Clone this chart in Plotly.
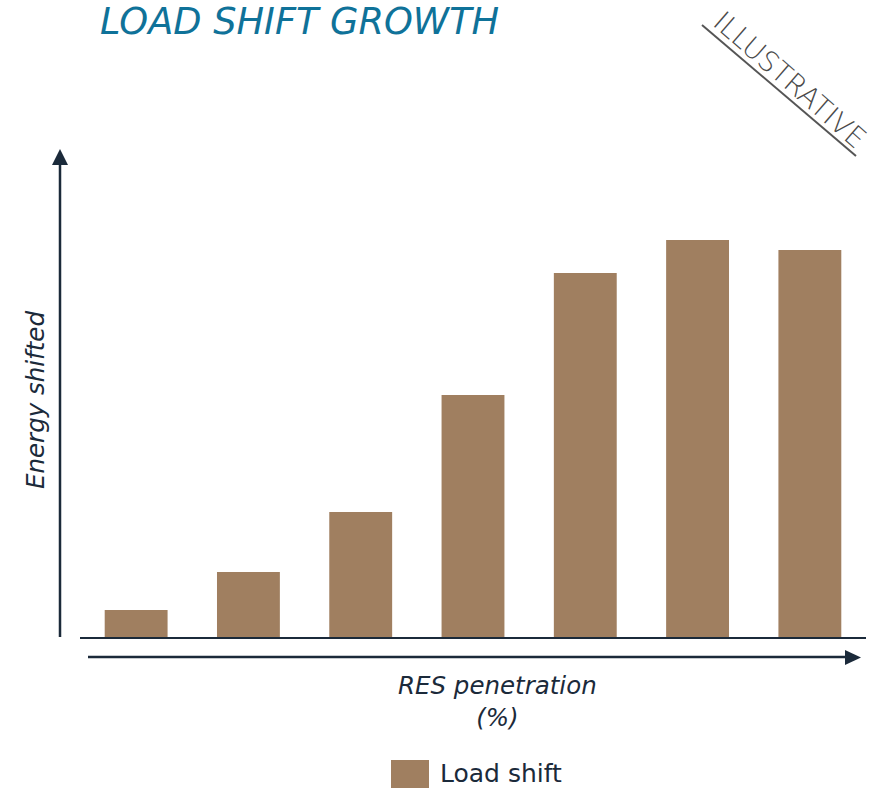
import plotly.graph_objects as go

# ---- data ----
categories = ["1", "2", "3", "4", "5", "6", "7"]
load_shift = [2.7, 6.5, 12.5, 24.2, 36.4, 39.7, 38.7]
series_name = "Load shift"
title_text = "LOAD SHIFT GROWTH"
stamp_text = "ILLUSTRATIVE"
y_title = "Energy shifted"
x_title = "RES penetration<br>(%)"

W, H = 874, 788
L, R, T, B = 80, 8, 137, 151
PW, PH = W - L - R, H - T - B
NAVY = "#1b2a3a"
BAR = "#a07f60"
FONT = "DejaVu Sans"

def px(x):
    return (x - L) / PW

def py(y):
    return (H - B - y) / PH

fig = go.Figure()
fig.add_trace(go.Bar(x=categories, y=load_shift, name=series_name,
                     marker=dict(color=BAR, line=dict(width=0)),
                     showlegend=False))

shapes = []
# y axis arrow
shapes.append(dict(type="line", xref="paper", yref="paper",
                   x0=px(60), x1=px(60), y0=py(637), y1=py(163),
                   line=dict(color=NAVY, width=2.5)))
shapes.append(dict(type="path", xref="paper", yref="paper",
                   path=f"M {px(52)} {py(165)} L {px(68)} {py(165)} L {px(60)} {py(149)} Z",
                   fillcolor=NAVY, line=dict(width=0)))
# x axis arrow
shapes.append(dict(type="line", xref="paper", yref="paper",
                   x0=px(88), x1=px(847), y0=py(657), y1=py(657),
                   line=dict(color=NAVY, width=2.5)))
shapes.append(dict(type="path", xref="paper", yref="paper",
                   path=f"M {px(845)} {py(650)} L {px(845)} {py(665)} L {px(861)} {py(657.5)} Z",
                   fillcolor=NAVY, line=dict(width=0)))
# stamp underline
shapes.append(dict(type="line", xref="paper", yref="paper",
                   x0=px(702), x1=px(856), y0=py(25), y1=py(156),
                   line=dict(color="#555555", width=2)))
# legend swatch
shapes.append(dict(type="rect", xref="paper", yref="paper",
                   x0=px(391), x1=px(429), y0=py(760), y1=py(792),
                   fillcolor=BAR, line=dict(width=0)))

annotations = [
    dict(text=f"<i>{title_text}</i>", xref="paper", yref="paper",
         x=px(98), y=py(21), xanchor="left", yanchor="middle", showarrow=False,
         font=dict(family=FONT, size=36.7, color="#0f7299")),
    dict(text=stamp_text, xref="paper", yref="paper",
         x=px(789), y=py(80), xanchor="center", yanchor="middle", showarrow=False,
         textangle=41, font=dict(family=FONT, size=28, color="#4a4a4a", weight=200)),
    dict(text=f"<i>{y_title}</i>", xref="paper", yref="paper",
         x=px(35), y=py(400), xanchor="center", yanchor="middle", showarrow=False,
         textangle=-90, font=dict(family=FONT, size=24.5, color=NAVY)),
    dict(text=f"<i>{x_title}</i>", xref="paper", yref="paper",
         x=px(497), y=py(701), xanchor="center", yanchor="middle", showarrow=False,
         font=dict(family=FONT, size=24.5, color=NAVY)),
    dict(text=series_name, xref="paper", yref="paper",
         x=px(438), y=py(773), xanchor="left", yanchor="middle", showarrow=False,
         font=dict(family=FONT, size=25, color=NAVY)),
]

fig.update_layout(
    width=W, height=H,
    margin=dict(l=L, r=R, t=T, b=B),
    paper_bgcolor="white", plot_bgcolor="white",
    bargap=0.44,
    xaxis=dict(showline=True, linecolor=NAVY, linewidth=2, showticklabels=False,
               ticks="", showgrid=False, zeroline=False),
    yaxis=dict(range=[0, 50], showticklabels=False, showgrid=False,
               zeroline=False, showline=False, ticks=""),
    shapes=shapes,
    annotations=annotations,
    showlegend=False,
)

fig.write_html("out.html", config={"displayModeBar": False},
               post_script="document.body.style.margin='0';document.body.style.overflow='hidden';")
